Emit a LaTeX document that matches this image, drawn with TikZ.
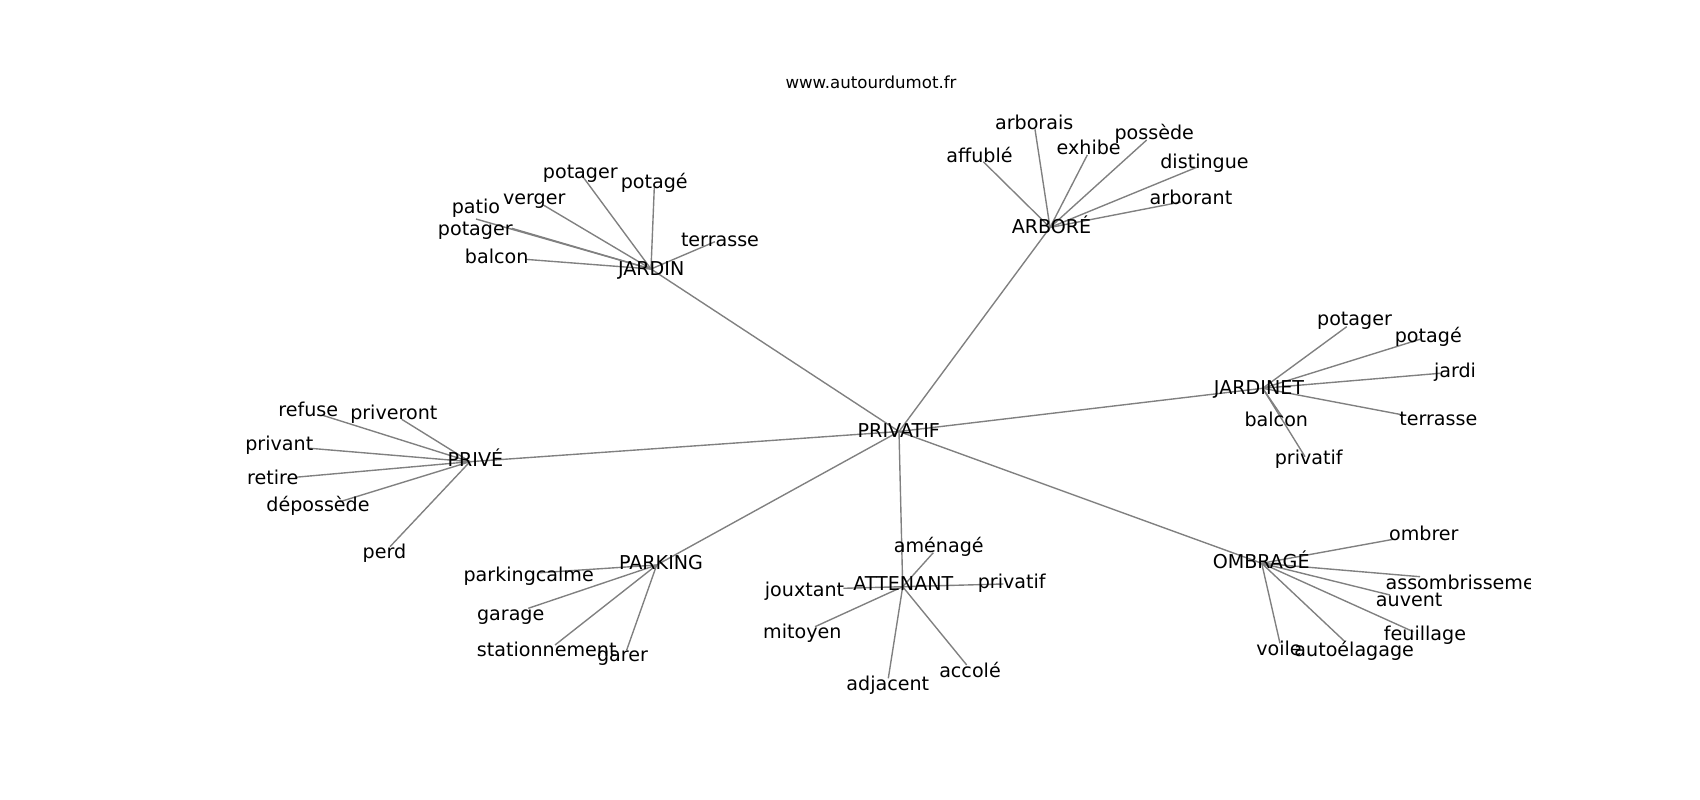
\documentclass[tikz,border=0pt]{standalone}
\usepackage{fontspec}
\setmainfont{DejaVu Sans}
\usetikzlibrary{backgrounds}
\newcommand\wordfont{\fontsize{13.8}{16}\selectfont}
\newcommand\titlefont{\fontsize{12}{14}\selectfont}
\tikzset{
  word/.style={font=\wordfont, anchor=base, inner sep=0pt},
  edge/.style={draw=gray, line width=1pt},
}

\begin{document}
\begin{tikzpicture}[x=0.01in, y=-0.01in]
  \useasboundingbox (0,0) rectangle (1700,800);
  % Title
  \node[font=\titlefont, anchor=base, inner sep=0pt] (title) at (871,88.5) {www.autourdumot.fr};
  \begin{scope}
    \clip (212.5,96) rectangle (1530,712);
    % Centre and hub words
    \coordinate (privatif) at (899,431.5);
    \coordinate (jardin) at (651,269);
    \coordinate (arbore) at (1050,227.5);
    \coordinate (jardinet) at (1262.7,388.3);
    \coordinate (ombrage) at (1261.7,563.3);
    \coordinate (attenant) at (902.7,586.7);
    \coordinate (parking) at (656.7,565);
    \coordinate (prive) at (470,461.7);
    \node[word] (privatif-w) at (898.8,437) {PRIVATIF};
    \node[word] (jardin-w) at (651.2,275.7) {JARDIN};
    \node[word] (arbore-w) at (1051.5,234) {ARBORÉ};
    \node[word] (jardinet-w) at (1259,395) {JARDINET};
    \node[word] (ombrage-w) at (1261.2,568.3) {OMBRAGÉ};
    \node[word] (attenant-w) at (903.3,590) {ATTENANT};
    \node[word] (parking-w) at (661,569.3) {PARKING};
    \node[word] (prive-w) at (475.4,466) {PRIVÉ};
    % Spokes from the centre
    \begin{pgfonlayer}{background}
      \foreach \hub in {jardin, arbore, jardinet, ombrage, attenant, parking, prive}
        \draw[edge] (privatif) -- (\hub);
    \end{pgfonlayer}
    % JARDIN
    \foreach \nx/\ny/\lx/\ly/\w [count=\i] in {583.3/177.3/580.3/178.3/potager, 654.3/187.3/654.2/189/potagé,
        543.3/205/534.2/205/verger, 476/219/476/214/patio, 511.7/228.3/475.3/236/potager,
        525/259.3/496.7/263.3/balcon, 715/241.7/720/246.7/terrasse}{
      \coordinate (jardin-\i) at (\nx,\ny);
      \begin{pgfonlayer}{background}\draw[edge] (jardin) -- (jardin-\i);\end{pgfonlayer}
      \node[word] (jardin-\i-w) at (\lx,\ly) {\w};
    }
    % ARBORÉ
    \foreach \nx/\ny/\lx/\ly/\w [count=\i] in {983.3/161.7/979.5/162.7/affublé, 1035/129.3/1034.2/130/arborais,
        1087.3/155/1088.7/154.3/exhibe, 1146.7/140/1154.2/140/possède,
        1196.7/167.3/1204.5/168.3/distingue, 1181/202/1191/205/arborant}{
      \coordinate (arbore-\i) at (\nx,\ny);
      \begin{pgfonlayer}{background}\draw[edge] (arbore) -- (arbore-\i);\end{pgfonlayer}
      \node[word] (arbore-\i-w) at (\lx,\ly) {\w};
    }
    % JARDINET
    \foreach \nx/\ny/\lx/\ly/\w [count=\i] in {1346.7/326.7/1354.5/326/potager, 1420/339.3/1428.3/342.7/potagé,
        1440/373.3/1455/377.3/jardi, 1403.3/415/1438.3/426/terrasse,
        1283/418/1276.3/426.7/balcon, 1305/456.7/1308.7/464.3/privatif}{
      \coordinate (jardinet-\i) at (\nx,\ny);
      \begin{pgfonlayer}{background}\draw[edge] (jardinet) -- (jardinet-\i);\end{pgfonlayer}
      \node[word] (jardinet-\i-w) at (\lx,\ly) {\w};
    }
    % OMBRAGÉ
    \foreach \nx/\ny/\lx/\ly/\w [count=\i] in {1393.3/539.3/1423.8/540/ombrer, 1420/576.7/1470/589.3/assombrissement,
        1390/595/1409.2/606.7/auvent, 1413.3/631.7/1425/640.7/feuillage,
        1280/643.3/1279/655/voile, 1345/641.7/1354.2/656.7/autoélagage}{
      \coordinate (ombrage-\i) at (\nx,\ny);
      \begin{pgfonlayer}{background}\draw[edge] (ombrage) -- (ombrage-\i);\end{pgfonlayer}
      \node[word] (ombrage-\i-w) at (\lx,\ly) {\w};
    }
    % ATTENANT
    \foreach \nx/\ny/\lx/\ly/\w [count=\i] in {933.3/552.7/938.8/552.7/aménagé, 1003.3/584/1011.7/588.3/privatif,
        843.3/588.3/804.5/596.7/jouxtant, 815/626.7/802.3/638.3/mitoyen,
        888.3/678.3/887.8/690/adjacent, 966.7/665/970/677.3/accolé}{
      \coordinate (attenant-\i) at (\nx,\ny);
      \begin{pgfonlayer}{background}\draw[edge] (attenant) -- (attenant-\i);\end{pgfonlayer}
      \node[word] (attenant-\i-w) at (\lx,\ly) {\w};
    }
    % PARKING
    \foreach \nx/\ny/\lx/\ly/\w [count=\i] in {540/572.7/528.7/581/parkingcalme, 528.3/608.3/510.7/620/garage,
        555/645/546.7/656/stationnement, 626.7/650/622.5/661.7/garer}{
      \coordinate (parking-\i) at (\nx,\ny);
      \begin{pgfonlayer}{background}\draw[edge] (parking) -- (parking-\i);\end{pgfonlayer}
      \node[word] (parking-\i-w) at (\lx,\ly) {\w};
    }
    % PRIVÉ
    \foreach \nx/\ny/\lx/\ly/\w [count=\i] in {321.7/415/308.2/416.7/refuse, 401.7/419.3/393.8/420/priveront,
        310/448.3/279.3/450.7/privant, 295/477.3/272.8/485/retire,
        340/501.7/318/511.7/dépossède, 390/546.7/384.5/558.3/perd}{
      \coordinate (prive-\i) at (\nx,\ny);
      \begin{pgfonlayer}{background}\draw[edge] (prive) -- (prive-\i);\end{pgfonlayer}
      \node[word] (prive-\i-w) at (\lx,\ly) {\w};
    }
  \end{scope}
\end{tikzpicture}
\end{document}
